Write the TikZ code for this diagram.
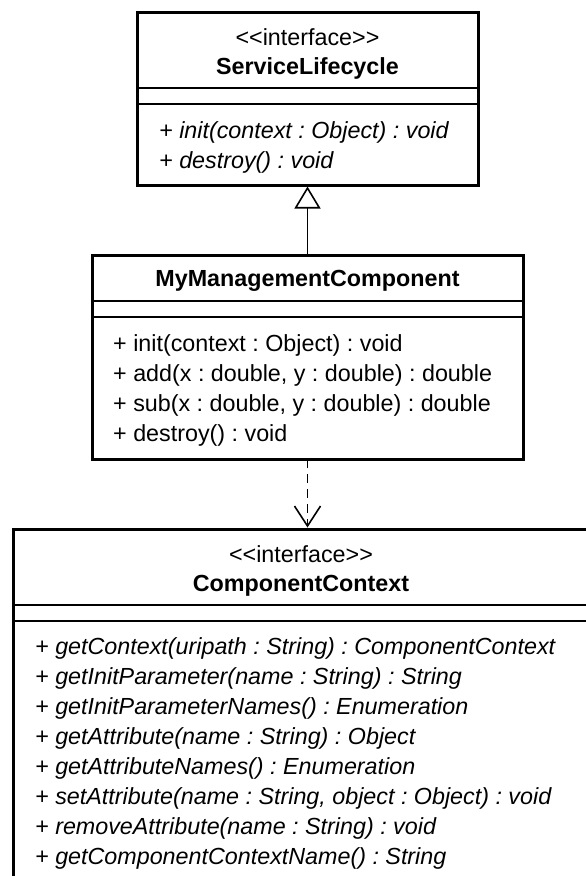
\documentclass[tikz,border=0pt]{standalone}
\usepackage{fontspec}
\setmainfont{Liberation Sans}
\usetikzlibrary{arrows.meta}
\frenchspacing

\tikzset{
  classbox/.style={draw, line width=3pt, inner sep=0pt, outer sep=0pt,
    anchor=north west, fill=white},
  sepline/.style={line width=2pt},
  umltext/.style={inner sep=0pt, font=\fontsize{23.3}{28}\selectfont},
  stereo/.style={umltext, anchor=base},
  cname/.style={umltext, anchor=base, font=\fontsize{23.3}{28}\selectfont\bfseries},
  member/.style={umltext, anchor=base west},
  abstractop/.style={member, font=\fontsize{23.3}{28}\selectfont\itshape},
  realize/.style={line width=1.6pt, shorten >=1.5pt,
    -{Triangle[open, length=22pt, width=26pt, line width=1.6pt]}},
  depends/.style={line width=1.6pt, dash pattern=on 9pt off 6pt, shorten >=1.5pt,
    -{Straight Barb[length=20pt, width=26pt, line width=1.6pt]}}
}
% guillemet-free stereotype text (kerns stop the << >> font mapping)
\newcommand{\stereotype}[1]{<\kern0pt<#1>\kern0pt>}

\begin{document}
\begin{tikzpicture}[x=1pt, y=-1pt]
  \useasboundingbox (0,0) rectangle (586,876);
  \fill[white] (0,0) rectangle (586,876);

  % ---- ServiceLifecycle interface ----
  \node[classbox, minimum width=341pt, minimum height=173pt] (slc) at (137,12) {};
  \draw[sepline] (137,88) -- (478,88);
  \draw[sepline] (137,104) -- (478,104);
  \node[stereo] (slcStereo) at (307.5,45) {\stereotype{interface}};
  \node[cname] (slcName) at (307.5,74) {ServiceLifecycle};
  \node[abstractop] (slcInit) at (159,138) {+ init(context : Object) : void};
  \node[abstractop] (slcDestroy) at (159,168) {+ destroy() : void};

  % ---- MyManagementComponent class ----
  \node[classbox, minimum width=431pt, minimum height=204pt] (mmc) at (92,255) {};
  \draw[sepline] (92,301) -- (523,301);
  \draw[sepline] (92,317) -- (523,317);
  \node[cname] (mmcName) at (307.5,286) {MyManagementComponent};
  \node[member] (mmcInit) at (113,351) {+ init(context : Object) : void};
  \node[member] (mmcAdd) at (113,381) {+ add(x : double, y : double) : double};
  \node[member] (mmcSub) at (113,411) {+ sub(x : double, y : double) : double};
  \node[member] (mmcDestroy) at (113,441) {+ destroy() : void};

  % ---- ComponentContext interface ----
  \node[classbox, minimum width=589pt, minimum height=400pt] (cc) at (13,529) {};
  \draw[sepline] (13,605) -- (602,605);
  \draw[sepline] (13,621) -- (602,621);
  \node[stereo] (ccStereo) at (301,562) {\stereotype{interface}};
  \node[cname] (ccName) at (301,591) {ComponentContext};
  \node[abstractop] (cc1) at (35,654) {+ getContext(uripath : String) : ComponentContext};
  \node[abstractop] (cc2) at (35,684) {+ getInitParameter(name : String) : String};
  \node[abstractop] (cc3) at (35,714) {+ getInitParameterNames() : Enumeration};
  \node[abstractop] (cc4) at (35,744) {+ getAttribute(name : String) : Object};
  \node[abstractop] (cc5) at (35,774) {+ getAttributeNames() : Enumeration};
  \node[abstractop] (cc6) at (35,804) {+ setAttribute(name : String, object : Object) : void};
  \node[abstractop] (cc7) at (35,834) {+ removeAttribute(name : String) : void};
  \node[abstractop] (cc8) at (35,864) {+ getComponentContextName() : String};

  % ---- relationships ----
  \draw[realize] (mmc.north) -- (slc.south);
  \draw[depends] (mmc.south) -- (cc.north);
\end{tikzpicture}
\end{document}
